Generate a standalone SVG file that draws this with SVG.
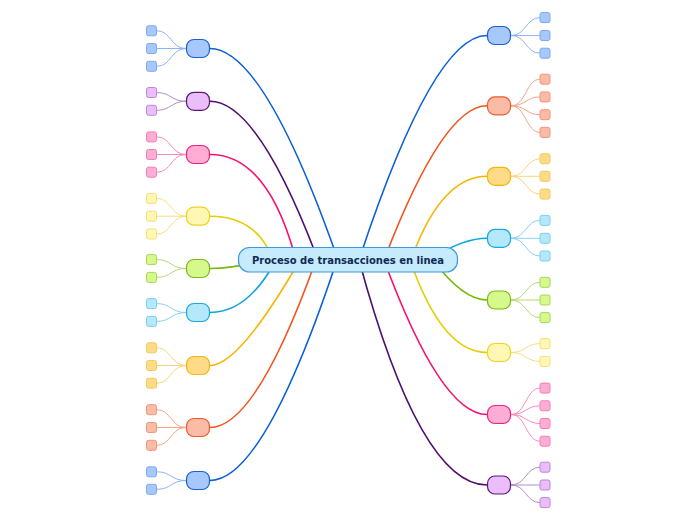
<svg xmlns="http://www.w3.org/2000/svg" width="696" height="520" viewBox="0 0 696 520">
<style>
path{fill:none}
.m{stroke-width:1.6}
.s{stroke-width:1}
.nd{stroke-width:1.2}
.lf{stroke-width:1}
.m.b{stroke:#0a5fd6}.m.p{stroke:#4d0f6e}.m.k{stroke:#f8106e}.m.y{stroke:#e6cd00}.m.g{stroke:#78b808}.m.c{stroke:#0fa6dc}.m.o{stroke:#f7b500}.m.r{stroke:#f2521e}
.s.b{stroke:#8db4f3}.s.p{stroke:#b28cc5}.s.k{stroke:#f98bb8}.s.y{stroke:#f2e17a}.s.g{stroke:#b5d879}.s.c{stroke:#85d2ef}.s.o{stroke:#f9d47a}.s.r{stroke:#f6a48a}
.nd.b{fill:#a7c8fc;stroke:#1a5fd3}.nd.p{fill:#ebbdfb;stroke:#5a1a7a}.nd.k{fill:#ffadd4;stroke:#f0237a}.nd.y{fill:#fff7b3;stroke:#ead51e}.nd.g{fill:#d5fa8b;stroke:#7cb81c}.nd.c{fill:#b3e8fd;stroke:#1ba8dc}.nd.o{fill:#ffdb88;stroke:#f6b50a}.nd.r{fill:#fabba7;stroke:#ef5a2b}
.lf.b{fill:#a7c8fc;stroke:#7ea8f0}.lf.p{fill:#ebbdfb;stroke:#b98ad0}.lf.k{fill:#ffadd4;stroke:#f57fb0}.lf.y{fill:#fff7b3;stroke:#f0e07a}.lf.g{fill:#d5fa8b;stroke:#a9d460}.lf.c{fill:#b3e8fd;stroke:#7ccff0}.lf.o{fill:#ffdb88;stroke:#f6c860}.lf.r{fill:#fabba7;stroke:#f3957a}
.root{fill:#c6ebfc;stroke:#3b9adb;stroke-width:1.2}
.t{font-family:"DejaVu Sans",Verdana,sans-serif;font-weight:bold;font-size:10px;fill:#0e2a55}
</style>
<g id="connectors">
<path class="m b" d="M210,48.5 Q264,48.5 338,260"/>
<path class="m p" d="M210,101.3 Q258,101.3 318,260"/>
<path class="m k" d="M210,154.5 Q268,154.5 296,260"/>
<path class="m y" d="M210,216.2 Q257,216.2 273,260"/>
<path class="m g" d="M210,268.5 Q234,268.5 264,260"/>
<path class="m c" d="M210,312.5 Q248,312.5 276,260"/>
<path class="m o" d="M210,365.5 Q239,365.5 300,260"/>
<path class="m r" d="M210,427.5 Q256,427.5 316,260"/>
<path class="m b" d="M210,480.5 Q264,480.5 337,260"/>
<path class="m b" d="M487,35.5 Q433,35.5 359,260"/>
<path class="m r" d="M487,105.8 Q443,105.8 384,260"/>
<path class="m o" d="M487,176.3 Q441,176.3 411,260"/>
<path class="m c" d="M487,238.3 Q462,238.3 430,260"/>
<path class="m g" d="M487,300 Q463,300 433,260"/>
<path class="m y" d="M487,352.5 Q442,352.5 410,260"/>
<path class="m k" d="M487,414.5 Q441,414.5 384,260"/>
<path class="m p" d="M487,485 Q420,485 359,260"/>
<!-- leaf connectors left -->
<path class="s b" d="M186,48.5 C171,48.5 171,30.8 157,30.8 M186,48.5 L157,48.5 M186,48.5 C171,48.5 171,66.3 157,66.3"/>
<path class="s p" d="M186,101.3 C171,101.3 171,92.5 157,92.5 M186,101.3 C171,101.3 171,110.3 157,110.3"/>
<path class="s k" d="M186,154.5 C171,154.5 171,136.9 157,136.9 M186,154.5 L157,154.5 M186,154.5 C171,154.5 171,172.2 157,172.2"/>
<path class="s y" d="M186,216.2 C171,216.2 171,198.4 157,198.4 M186,216.2 L157,216.2 M186,216.2 C171,216.2 171,234 157,234"/>
<path class="s g" d="M186,268.5 C171,268.5 171,259.6 157,259.6 M186,268.5 C171,268.5 171,277.4 157,277.4"/>
<path class="s c" d="M186,312.5 C171,312.5 171,303.6 157,303.6 M186,312.5 C171,312.5 171,321.4 157,321.4"/>
<path class="s o" d="M186,365.5 C171,365.5 171,347.8 157,347.8 M186,365.5 L157,365.5 M186,365.5 C171,365.5 171,383.2 157,383.2"/>
<path class="s r" d="M186,427.5 C171,427.5 171,409.7 157,409.7 M186,427.5 L157,427.5 M186,427.5 C171,427.5 171,445.3 157,445.3"/>
<path class="s b" d="M186,480.5 C171,480.5 171,471.8 157,471.8 M186,480.5 C171,480.5 171,489.3 157,489.3"/>
<!-- leaf connectors right -->
<path class="s b" d="M511,35.5 C526,35.5 526,17.6 540,17.6 M511,35.5 L540,35.5 M511,35.5 C526,35.5 526,53.2 540,53.2"/>
<path class="s r" d="M511,105.8 C526,105.8 526,79.2 540,79.2 M511,105.8 C526,105.8 526,96.9 540,96.9 M511,105.8 C526,105.8 526,114.7 540,114.7 M511,105.8 C526,105.8 526,132.4 540,132.4"/>
<path class="s o" d="M511,176.3 C526,176.3 526,158.8 540,158.8 M511,176.3 L540,176.3 M511,176.3 C526,176.3 526,194.1 540,194.1"/>
<path class="s c" d="M511,238.3 C526,238.3 526,220.4 540,220.4 M511,238.3 L540,238.3 M511,238.3 C526,238.3 526,256 540,256"/>
<path class="s g" d="M511,300 C526,300 526,282.3 540,282.3 M511,300 L540,300 M511,300 C526,300 526,317.6 540,317.6"/>
<path class="s y" d="M511,352.5 C526,352.5 526,343.6 540,343.6 M511,352.5 C526,352.5 526,361.4 540,361.4"/>
<path class="s k" d="M511,414.5 C526,414.5 526,388.1 540,388.1 M511,414.5 C526,414.5 526,405.8 540,405.8 M511,414.5 C526,414.5 526,423.5 540,423.5 M511,414.5 C526,414.5 526,441.2 540,441.2"/>
<path class="s p" d="M511,485 C526,485 526,467.2 540,467.2 M511,485 L540,485 M511,485 C526,485 526,502.6 540,502.6"/>
</g>
<g id="root">
<rect class="root" x="238.5" y="247.5" width="219" height="24.5" rx="11"/>
<text class="t" x="348" y="263.5" text-anchor="middle">Proceso de transacciones en linea</text>
</g>
<g id="L1"><rect class="nd b" x="186.5" y="39.5" width="23" height="18" rx="7.5"/><rect class="lf b" x="146.5" y="25.8" width="10" height="10" rx="2"/><rect class="lf b" x="146.5" y="43.5" width="10" height="10" rx="2"/><rect class="lf b" x="146.5" y="61.3" width="10" height="10" rx="2"/></g>
<g id="L2"><rect class="nd p" x="186.5" y="92.3" width="23" height="18" rx="7.5"/><rect class="lf p" x="146.5" y="87.5" width="10" height="10" rx="2"/><rect class="lf p" x="146.5" y="105.3" width="10" height="10" rx="2"/></g>
<g id="L3"><rect class="nd k" x="186.5" y="145.5" width="23" height="18" rx="7.5"/><rect class="lf k" x="146.5" y="131.9" width="10" height="10" rx="2"/><rect class="lf k" x="146.5" y="149.5" width="10" height="10" rx="2"/><rect class="lf k" x="146.5" y="167.2" width="10" height="10" rx="2"/></g>
<g id="L4"><rect class="nd y" x="186.5" y="207.2" width="23" height="18" rx="7.5"/><rect class="lf y" x="146.5" y="193.4" width="10" height="10" rx="2"/><rect class="lf y" x="146.5" y="211.2" width="10" height="10" rx="2"/><rect class="lf y" x="146.5" y="229" width="10" height="10" rx="2"/></g>
<g id="L5"><rect class="nd g" x="186.5" y="259.5" width="23" height="18" rx="7.5"/><rect class="lf g" x="146.5" y="254.6" width="10" height="10" rx="2"/><rect class="lf g" x="146.5" y="272.4" width="10" height="10" rx="2"/></g>
<g id="L6"><rect class="nd c" x="186.5" y="303.5" width="23" height="18" rx="7.5"/><rect class="lf c" x="146.5" y="298.6" width="10" height="10" rx="2"/><rect class="lf c" x="146.5" y="316.4" width="10" height="10" rx="2"/></g>
<g id="L7"><rect class="nd o" x="186.5" y="356.5" width="23" height="18" rx="7.5"/><rect class="lf o" x="146.5" y="342.8" width="10" height="10" rx="2"/><rect class="lf o" x="146.5" y="360.5" width="10" height="10" rx="2"/><rect class="lf o" x="146.5" y="378.2" width="10" height="10" rx="2"/></g>
<g id="L8"><rect class="nd r" x="186.5" y="418.5" width="23" height="18" rx="7.5"/><rect class="lf r" x="146.5" y="404.7" width="10" height="10" rx="2"/><rect class="lf r" x="146.5" y="422.5" width="10" height="10" rx="2"/><rect class="lf r" x="146.5" y="440.3" width="10" height="10" rx="2"/></g>
<g id="L9"><rect class="nd b" x="186.5" y="471.5" width="23" height="18" rx="7.5"/><rect class="lf b" x="146.5" y="466.8" width="10" height="10" rx="2"/><rect class="lf b" x="146.5" y="484.3" width="10" height="10" rx="2"/></g>
<g id="R1"><rect class="nd b" x="487.5" y="26.5" width="23" height="18" rx="7.5"/><rect class="lf b" x="540" y="12.6" width="10" height="10" rx="2"/><rect class="lf b" x="540" y="30.5" width="10" height="10" rx="2"/><rect class="lf b" x="540" y="48.2" width="10" height="10" rx="2"/></g>
<g id="R2"><rect class="nd r" x="487.5" y="96.8" width="23" height="18" rx="7.5"/><rect class="lf r" x="540" y="74.2" width="10" height="10" rx="2"/><rect class="lf r" x="540" y="91.9" width="10" height="10" rx="2"/><rect class="lf r" x="540" y="109.7" width="10" height="10" rx="2"/><rect class="lf r" x="540" y="127.4" width="10" height="10" rx="2"/></g>
<g id="R3"><rect class="nd o" x="487.5" y="167.3" width="23" height="18" rx="7.5"/><rect class="lf o" x="540" y="153.8" width="10" height="10" rx="2"/><rect class="lf o" x="540" y="171.3" width="10" height="10" rx="2"/><rect class="lf o" x="540" y="189.1" width="10" height="10" rx="2"/></g>
<g id="R4"><rect class="nd c" x="487.5" y="229.3" width="23" height="18" rx="7.5"/><rect class="lf c" x="540" y="215.4" width="10" height="10" rx="2"/><rect class="lf c" x="540" y="233.3" width="10" height="10" rx="2"/><rect class="lf c" x="540" y="251" width="10" height="10" rx="2"/></g>
<g id="R5"><rect class="nd g" x="487.5" y="291" width="23" height="18" rx="7.5"/><rect class="lf g" x="540" y="277.3" width="10" height="10" rx="2"/><rect class="lf g" x="540" y="295" width="10" height="10" rx="2"/><rect class="lf g" x="540" y="312.6" width="10" height="10" rx="2"/></g>
<g id="R6"><rect class="nd y" x="487.5" y="343.5" width="23" height="18" rx="7.5"/><rect class="lf y" x="540" y="338.6" width="10" height="10" rx="2"/><rect class="lf y" x="540" y="356.4" width="10" height="10" rx="2"/></g>
<g id="R7"><rect class="nd k" x="487.5" y="405.5" width="23" height="18" rx="7.5"/><rect class="lf k" x="540" y="383.1" width="10" height="10" rx="2"/><rect class="lf k" x="540" y="400.8" width="10" height="10" rx="2"/><rect class="lf k" x="540" y="418.5" width="10" height="10" rx="2"/><rect class="lf k" x="540" y="436.2" width="10" height="10" rx="2"/></g>
<g id="R8"><rect class="nd p" x="487.5" y="476" width="23" height="18" rx="7.5"/><rect class="lf p" x="540" y="462.2" width="10" height="10" rx="2"/><rect class="lf p" x="540" y="480" width="10" height="10" rx="2"/><rect class="lf p" x="540" y="497.6" width="10" height="10" rx="2"/></g>
</svg>
